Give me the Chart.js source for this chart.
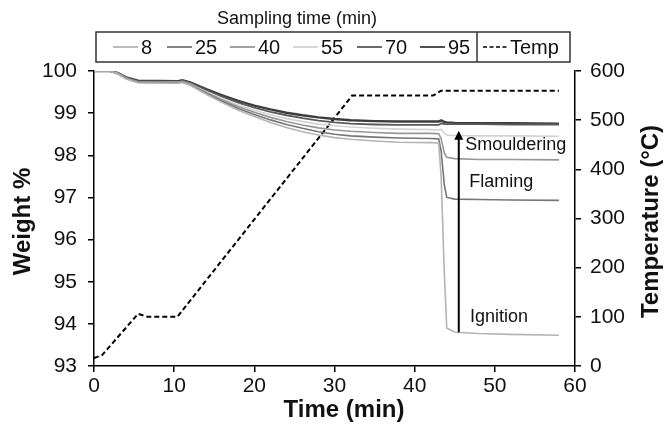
<!DOCTYPE html>
<html>
<head>
<meta charset="utf-8">
<script src="https://cdn.jsdelivr.net/npm/chart.js@4.4.1/dist/chart.umd.min.js"></script>
<style>
  html, body { margin: 0; padding: 0; background: #fff; }
  #wrap { width: 667px; height: 433px; position: relative; }
</style>
</head>
<body>
<div id="wrap"><canvas id="tgaChart"></canvas></div>
<script>
// Time axis (min) shared by the weight curves
const time = [0, 2, 3, 4, 5.5, 10.5, 11, 12, 14, 16, 18, 20, 22, 24, 26, 28, 30, 32, 35, 38, 42, 43, 43.3, 43.7, 44, 45, 48, 52, 58];

// Weight % for each sampling time
const w8  = [100, 100, 99.93, 99.81, 99.72, 99.71, 99.73, 99.66, 99.45, 99.25, 99.07, 98.92, 98.78, 98.66, 98.56, 98.48, 98.42, 98.38, 98.34, 98.31, 98.30, 98.29, 97.50, 95.20, 93.90, 93.80, 93.77, 93.75, 93.73];
const w25 = [100, 100, 99.93, 99.82, 99.73, 99.72, 99.74, 99.67, 99.47, 99.28, 99.11, 98.97, 98.84, 98.73, 98.64, 98.56, 98.50, 98.46, 98.43, 98.41, 98.40, 98.39, 98.10, 97.30, 97.00, 96.96, 96.95, 96.94, 96.93];
const w40 = [100, 100, 99.94, 99.83, 99.74, 99.73, 99.75, 99.68, 99.49, 99.31, 99.15, 99.02, 98.90, 98.80, 98.72, 98.65, 98.60, 98.57, 98.54, 98.52, 98.52, 98.51, 98.40, 98.05, 97.95, 97.92, 97.90, 97.90, 97.89];
const w55 = [100, 100, 99.94, 99.83, 99.74, 99.73, 99.75, 99.69, 99.51, 99.34, 99.19, 99.07, 98.96, 98.87, 98.80, 98.74, 98.70, 98.67, 98.64, 98.62, 98.61, 98.60, 98.62, 98.52, 98.48, 98.47, 98.46, 98.46, 98.45];
const w70 = [100, 100, 99.95, 99.85, 99.76, 99.75, 99.77, 99.72, 99.55, 99.39, 99.25, 99.13, 99.03, 98.95, 98.88, 98.82, 98.78, 98.75, 98.73, 98.72, 98.72, 98.72, 98.76, 98.74, 98.74, 98.74, 98.74, 98.73, 98.73];
const w95 = [100, 100, 99.95, 99.85, 99.77, 99.76, 99.78, 99.73, 99.57, 99.42, 99.29, 99.18, 99.09, 99.01, 98.95, 98.90, 98.86, 98.83, 98.81, 98.80, 98.80, 98.80, 98.83, 98.79, 98.78, 98.77, 98.76, 98.76, 98.75];

// Furnace temperature (°C)
const tempTime = [0, 1, 5.5, 6.7, 10.4, 32.2, 42.3, 43.3, 58];
const tempVals = [16, 22, 106, 100, 100, 550, 550, 560, 560];

const seriesLabels = ['8', '25', '40', '55', '70', '95'];
const seriesColors = ['#b4b4b4', '#767676', '#979797', '#d2d2d2', '#5a5a5a', '#3c3c3c'];
const seriesWidths = [1.6, 1.6, 1.6, 1.6, 1.8, 2.4];
const weightSeries = [w8, w25, w40, w55, w70, w95];

const FONT = '"Liberation Sans", Arial, sans-serif';

const datasets = weightSeries.map((vals, i) => ({
    label: seriesLabels[i],
    data: time.map((t, j) => ({ x: t, y: vals[j] })),
    borderColor: seriesColors[i],
    borderWidth: seriesWidths[i],
    pointRadius: 0,
    yAxisID: 'y'
}));
datasets.push({
    label: 'Temp',
    data: tempTime.map((t, j) => ({ x: t, y: tempVals[j] })),
    borderColor: '#000',
    borderWidth: 2,
    borderDash: [5, 3],
    pointRadius: 0,
    yAxisID: 'y1'
});

// Arrow and stage labels, in data units
const notes = [
    { text: 'Smouldering', x: 46.3, y: 98.24 },
    { text: 'Flaming', x: 46.8, y: 97.37 },
    { text: 'Ignition', x: 46.9, y: 94.16 }
];
const arrow = { x: 45.5, from: 93.8, to: 98.58 };

// Boxed legend with title and a divider before Temp
const legendX = [113, 167, 230, 293, 357, 420, 483];
const boxLegend = {
    id: 'boxLegend',
    afterDraw(chart) {
        const ctx = chart.ctx;
        ctx.save();
        ctx.fillStyle = '#111';
        ctx.font = '18px ' + FONT;
        ctx.textAlign = 'center';
        ctx.textBaseline = 'middle';
        ctx.fillText('Sampling time (min)', 297, 19);

        ctx.strokeStyle = '#333';
        ctx.lineWidth = 1.5;
        ctx.strokeRect(96, 32, 474, 30);
        ctx.beginPath();
        ctx.moveTo(477, 32);
        ctx.lineTo(477, 62);
        ctx.stroke();

        ctx.textAlign = 'left';
        ctx.font = '20px ' + FONT;
        const yc = 47;
        chart.data.datasets.forEach((ds, i) => {
            const x = legendX[i];
            let len = 25;
            if (ds.label === 'Temp') {
                len = 24;
                ctx.setLineDash([4, 2.5]);
                ctx.strokeStyle = '#000';
                ctx.lineWidth = 1.5;
            } else {
                ctx.setLineDash([]);
                ctx.strokeStyle = ds.borderColor;
                ctx.lineWidth = 1.8;
            }
            ctx.beginPath();
            ctx.moveTo(x, yc);
            ctx.lineTo(x + len, yc);
            ctx.stroke();
            ctx.fillStyle = '#111';
            ctx.fillText(ds.label, x + len + 3, yc + 1);
        });
        ctx.restore();
    }
};

// Axis titles (right one reads bottom to top, like the left one)
const axisTitles = {
    id: 'axisTitles',
    afterDraw(chart) {
        const ctx = chart.ctx;
        const mid = (chart.chartArea.top + chart.chartArea.bottom) / 2;
        ctx.save();
        ctx.fillStyle = '#111';
        ctx.font = 'bold 24px ' + FONT;
        ctx.textAlign = 'center';
        ctx.textBaseline = 'middle';
        ctx.fillText('Time (min)', 344, 410);
        ctx.translate(23, mid + 3);
        ctx.rotate(-Math.PI / 2);
        ctx.fillText('Weight %', 0, 0);
        ctx.restore();
        ctx.save();
        ctx.fillStyle = '#111';
        ctx.font = 'bold 24px ' + FONT;
        ctx.textAlign = 'center';
        ctx.textBaseline = 'middle';
        ctx.translate(651, mid + 3);
        ctx.rotate(-Math.PI / 2);
        ctx.fillText('Temperature (°C)', 0, 0);
        ctx.restore();
    }
};

const notesPlugin = {
    id: 'notes',
    afterDatasetsDraw(chart) {
        const ctx = chart.ctx;
        const xs = chart.scales.x, ys = chart.scales.y;
        ctx.save();
        const ax = xs.getPixelForValue(arrow.x);
        const y0 = ys.getPixelForValue(arrow.from);
        const y1 = ys.getPixelForValue(arrow.to);
        ctx.strokeStyle = '#000';
        ctx.fillStyle = '#000';
        ctx.lineWidth = 2;
        ctx.beginPath();
        ctx.moveTo(ax, y0);
        ctx.lineTo(ax, y1 + 6);
        ctx.stroke();
        ctx.beginPath();
        ctx.moveTo(ax, y1);
        ctx.lineTo(ax - 4.5, y1 + 9);
        ctx.lineTo(ax + 4.5, y1 + 9);
        ctx.closePath();
        ctx.fill();

        ctx.fillStyle = '#111';
        ctx.font = '18px ' + FONT;
        ctx.textAlign = 'left';
        ctx.textBaseline = 'middle';
        notes.forEach(n => ctx.fillText(n.text, xs.getPixelForValue(n.x), ys.getPixelForValue(n.y)));
        ctx.restore();
    }
};

const axisGrid = { drawOnChartArea: false, drawTicks: true, tickLength: 6, color: '#000', lineWidth: 1.5 };
const axisBorder = { display: true, color: '#000', width: 1.5 };
const tickFont = { family: FONT, size: 21 };

const config = {
    type: 'line',
    data: { datasets },
    options: {
        responsive: true,
        maintainAspectRatio: false,
        animation: false,
        layout: { padding: { top: 71, left: 0, right: 0, bottom: 0 } },
        plugins: {
            legend: { display: false },
            tooltip: { enabled: false }
        },
        scales: {
            x: {
                type: 'linear',
                min: 0,
                max: 60,
                ticks: { stepSize: 10, color: '#111', font: tickFont, padding: 2, maxRotation: 0 },
                grid: axisGrid,
                border: axisBorder,
                afterFit(scale) { scale.height = 67; }
            },
            y: {
                position: 'left',
                min: 93,
                max: 100,
                ticks: { stepSize: 1, color: '#111', font: tickFont, padding: 11 },
                grid: axisGrid,
                border: axisBorder,
                afterFit(scale) { scale.width = 94; }
            },
            y1: {
                position: 'right',
                min: 0,
                max: 600,
                ticks: { stepSize: 100, color: '#111', font: tickFont, padding: 9 },
                grid: axisGrid,
                border: axisBorder,
                afterFit(scale) { scale.width = 92; }
            }
        }
    },
    plugins: [boxLegend, axisTitles, notesPlugin]
};

const tgaChart = new Chart(document.getElementById('tgaChart'), config);
</script>
</body>
</html>
